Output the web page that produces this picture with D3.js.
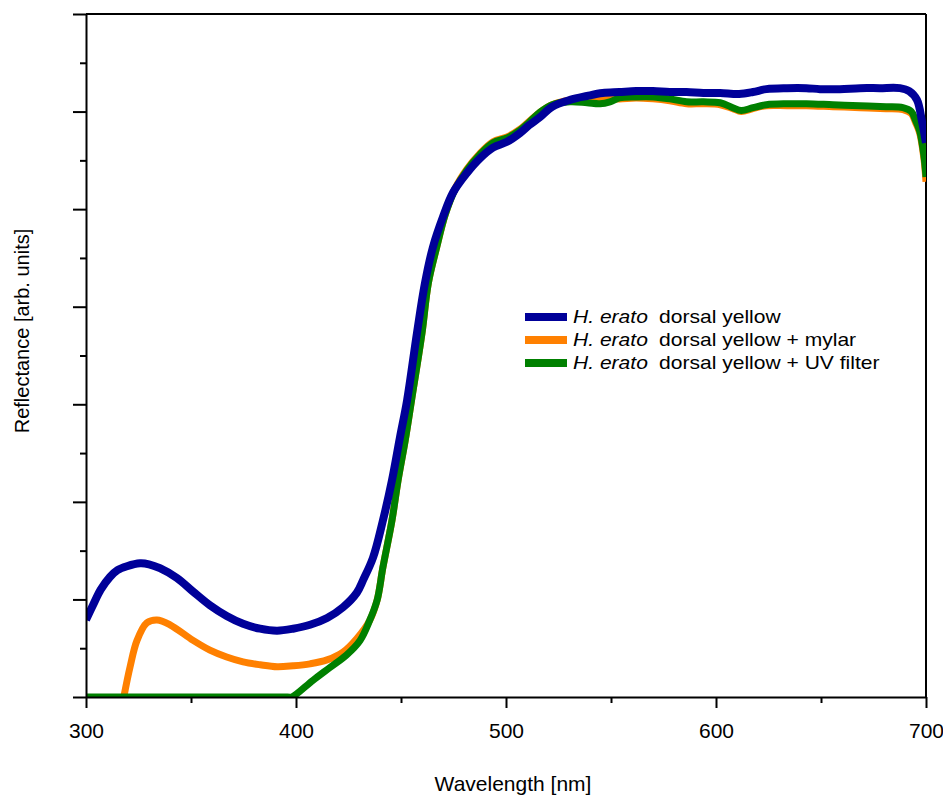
<!DOCTYPE html>
<html>
<head>
<meta charset="utf-8">
<script src="https://cdn.jsdelivr.net/npm/d3@7"></script>
<style>
  body { margin: 0; background: #fff; }
  text { font-family: "Liberation Sans", Arial, sans-serif; fill: #000; }
</style>
</head>
<body>
<svg id="chart" width="943" height="802"></svg>
<script>
// ---- data (wavelength nm, reflectance arb. units) ----
const xTicks = [300, 400, 500, 600, 700];
const xMinorTicks = [350, 450, 550, 650];
const yTicks = [0, 1, 2, 3, 4, 5, 6, 7];
const yMinorTicks = [0.5, 1.5, 2.5, 3.5, 4.5, 5.5, 6.5];

const seriesNames = ["dorsal yellow", "dorsal yellow + mylar", "dorsal yellow + UV filter"];
const seriesColors = ["#000099", "#ff8000", "#008000"];

const blueWl  = [300, 303.3, 307, 311.4, 315, 319.5, 325.7, 330, 335.2, 343.3, 351, 359, 367, 374.8, 382.9, 391, 398.6, 406.7, 414.8, 422.4, 429, 432, 436.7, 441.4, 445.7, 449.5, 452.9, 457.6, 461.4, 465.2, 470, 474.8, 481.4, 487.6, 493.8, 500.5, 506.7, 511, 516, 522, 530.5, 538.6, 546, 554, 562, 570, 578, 586, 594, 602, 611, 617.6, 624, 633.8, 643, 649.5, 659, 668.6, 678, 687.6, 692, 695.7, 698, 699, 700];
const blueVal = [0.79, 0.94, 1.10, 1.23, 1.30, 1.34, 1.37, 1.36, 1.32, 1.22, 1.08, 0.94, 0.83, 0.75, 0.70, 0.68, 0.70, 0.74, 0.81, 0.92, 1.07, 1.20, 1.43, 1.81, 2.22, 2.66, 3.04, 3.73, 4.24, 4.61, 4.92, 5.17, 5.37, 5.52, 5.63, 5.69, 5.78, 5.86, 5.94, 6.05, 6.12, 6.16, 6.19, 6.20, 6.21, 6.21, 6.20, 6.20, 6.19, 6.19, 6.18, 6.20, 6.23, 6.24, 6.24, 6.23, 6.23, 6.24, 6.24, 6.24, 6.21, 6.12, 5.91, 5.80, 5.68];

const orangeWl  = [318, 321, 324.3, 329, 333.8, 340, 351, 359, 367, 374.8, 383, 391, 398.6, 406.7, 414.8, 422.4, 429, 435, 438.6, 441.4, 445.7, 448.6, 452, 455, 460, 463, 467, 471, 475.7, 481.4, 487.6, 493.8, 500.5, 506.7, 511, 516, 522, 530.5, 538.6, 546, 554, 562, 570, 578, 586, 594, 602, 608, 612, 617.6, 624, 633.8, 643, 655.7, 668.6, 681, 689, 693, 695, 697, 699, 700];
const orangeVal = [0.00, 0.31, 0.58, 0.76, 0.79, 0.74, 0.58, 0.48, 0.41, 0.36, 0.33, 0.31, 0.32, 0.34, 0.38, 0.46, 0.60, 0.78, 0.99, 1.33, 1.81, 2.22, 2.63, 3.04, 3.73, 4.24, 4.61, 4.94, 5.21, 5.41, 5.57, 5.69, 5.74, 5.82, 5.90, 5.99, 6.07, 6.12, 6.13, 6.13, 6.13, 6.14, 6.13, 6.11, 6.08, 6.08, 6.07, 6.03, 6.00, 6.03, 6.06, 6.06, 6.06, 6.05, 6.04, 6.03, 6.02, 5.98, 5.89, 5.78, 5.52, 5.28];

const greenWl  = [300, 350, 396, 398, 408, 416, 424, 430.5, 435, 438.6, 441.4, 445.7, 448.6, 452, 455, 460, 463, 467, 471, 475.7, 481.4, 487.6, 493.8, 500.5, 506.7, 511, 516, 522, 530.5, 538.6, 544.8, 549.5, 554, 562, 570, 578, 586, 594, 602, 608, 612, 617.6, 624, 633.8, 643, 655.7, 668.6, 681, 689, 693, 695, 697, 699, 700];
const greenVal = [0.00, 0.00, 0.00, 0.00, 0.17, 0.30, 0.43, 0.58, 0.78, 0.99, 1.33, 1.81, 2.22, 2.63, 3.04, 3.73, 4.24, 4.61, 4.94, 5.20, 5.40, 5.56, 5.68, 5.73, 5.81, 5.89, 5.99, 6.07, 6.10, 6.09, 6.08, 6.10, 6.14, 6.15, 6.15, 6.13, 6.10, 6.10, 6.09, 6.04, 6.01, 6.04, 6.07, 6.08, 6.08, 6.07, 6.06, 6.05, 6.04, 6.00, 5.91, 5.80, 5.55, 5.33];

// ---- layout ----
const svg = d3.select("#chart");
const pLeft = 86, pTop = 14, pRight = 926, pBottom = 697;

const x = d3.scaleLinear().domain([300, 700]).range([pLeft, pRight]);
const y = d3.scaleLinear().domain([0, 7]).range([pBottom, pTop]);

svg.append("defs").append("clipPath").attr("id", "plotclip")
  .append("rect").attr("x", pLeft).attr("y", pTop).attr("width", pRight - pLeft).attr("height", pBottom - pTop);

// frame (top and right)
svg.append("line").attr("x1", pLeft).attr("x2", pRight).attr("y1", pTop).attr("y2", pTop)
  .attr("stroke", "#000").attr("stroke-width", 2);
svg.append("line").attr("x1", pRight).attr("x2", pRight).attr("y1", pTop).attr("y2", pBottom)
  .attr("stroke", "#000").attr("stroke-width", 2);

// series lines
const line = d3.line().x(d => x(d[0])).y(d => y(d[1])).curve(d3.curveCatmullRom.alpha(0.5));
const series = [
  {wl: orangeWl, val: orangeVal, color: seriesColors[1], w: 7},
  {wl: greenWl, val: greenVal, color: seriesColors[2], w: 7},
  {wl: blueWl, val: blueVal, color: seriesColors[0], w: 8}
];
const g = svg.append("g").attr("clip-path", "url(#plotclip)");
series.forEach(s => {
  const pts = s.wl.map((w, i) => [w, s.val[i]]);
  g.append("path").attr("d", line(pts)).attr("fill", "none")
    .attr("stroke", s.color).attr("stroke-width", s.w)
    .attr("stroke-linejoin", "round").attr("stroke-linecap", "butt");
});

// x axis
const xAxis = svg.append("g").attr("transform", `translate(0,${pBottom})`)
  .call(d3.axisBottom(x).tickValues(xTicks).tickSize(11).tickSizeOuter(0).tickFormat(d3.format("d")));
xAxis.select(".domain").attr("stroke-width", 2);
xAxis.selectAll(".tick line").attr("stroke-width", 2);
xAxis.selectAll(".tick text").attr("font-size", 21).attr("dy", 0).attr("y", 41)
  .style("font-family", "'Liberation Sans', Arial, sans-serif");
const xMinor = svg.append("g").attr("transform", `translate(0,${pBottom})`)
  .call(d3.axisBottom(x).tickValues(xMinorTicks).tickSize(6).tickSizeOuter(0).tickFormat(""));
xMinor.select(".domain").remove();
xMinor.selectAll(".tick line").attr("stroke-width", 2);

// y axis
const yAxis = svg.append("g").attr("transform", `translate(${pLeft},0)`)
  .call(d3.axisLeft(y).tickValues(yTicks).tickSize(13).tickSizeOuter(0).tickFormat(""));
yAxis.select(".domain").attr("stroke-width", 2);
yAxis.selectAll(".tick line").attr("stroke-width", 2);
const yMinor = svg.append("g").attr("transform", `translate(${pLeft},0)`)
  .call(d3.axisLeft(y).tickValues(yMinorTicks).tickSize(6).tickSizeOuter(0).tickFormat(""));
yMinor.select(".domain").remove();
yMinor.selectAll(".tick line").attr("stroke-width", 2);

// axis titles
svg.append("text").attr("x", 513).attr("y", 791).attr("text-anchor", "middle")
  .attr("font-size", 21).text("Wavelength [nm]");
svg.append("text").attr("transform", "translate(29,331) rotate(-90)").attr("text-anchor", "middle")
  .attr("font-size", 20).text("Reflectance [arb. units]");

// legend
const legendOrder = [0, 1, 2];
legendOrder.forEach((k, i) => {
  const cy = 317 + i * 23;
  svg.append("line").attr("x1", 525).attr("x2", 567).attr("y1", cy).attr("y2", cy)
    .attr("stroke", seriesColors[k]).attr("stroke-width", 8);
  svg.append("text").attr("transform", `translate(573,${cy + 6}) scale(1.17,1)`).attr("font-size", 18)
    .attr("font-style", "italic").text("H. erato");
  svg.append("text").attr("transform", `translate(659,${cy + 6}) scale(1.17,1)`).attr("font-size", 18)
    .text(seriesNames[k]);
});
</script>
</body>
</html>
